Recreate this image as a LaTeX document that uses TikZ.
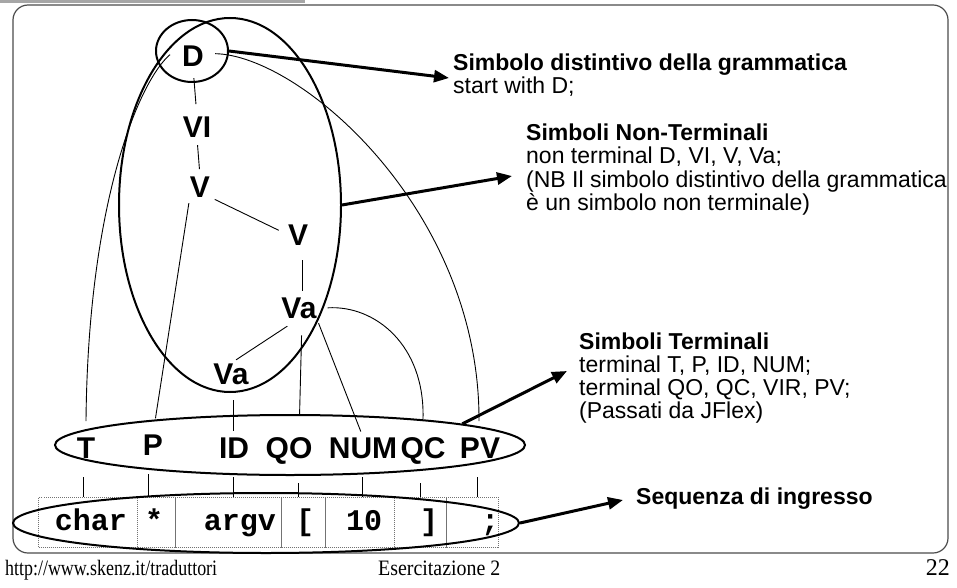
\documentclass[tikz,border=0pt]{standalone}
\usepackage{fontspec}
\setmainfont{Liberation Sans}
\newfontfamily\monofnt{Liberation Mono}
\newfontfamily\seriffnt{Liberation Serif}
\usetikzlibrary{shapes.geometric,arrows.meta,calc}
\begin{document}
\begin{tikzpicture}[x=1pt,y=-1pt,
 sym/.style={font=\bfseries\fontsize{30}{30}\selectfont, inner sep=0pt, anchor=base},
 tok/.style={font=\monofnt\bfseries\fontsize{30}{30}\selectfont, inner sep=0pt, anchor=base},
 cell/.style={draw=black!55, densely dotted, line width=1pt, minimum height=50pt, inner sep=0pt, anchor=north west},
 ell/.style={ellipse, draw, line width=2pt, inner sep=0pt},
 edge/.style={line width=0.9pt},
 bigarrow/.style={line width=3pt, -{Triangle[length=15pt,width=12pt]}},
 txt/.style={font=\fontsize{23}{23}\selectfont, inner sep=0pt, anchor=base west},
 btxt/.style={txt, font=\bfseries\fontsize{23}{23}\selectfont},
 foot/.style={font=\seriffnt\fontsize{22}{22}\selectfont, inner sep=0pt}
]
\useasboundingbox (0,0) rectangle (957,588);
% frame
\fill[gray!70] (0,0) rectangle (305,3);
\draw[rounded corners=15pt, line width=1.2pt, draw=black!70] (13,5) rectangle (948,553);

% input cells
\node[cell, minimum width=99pt] (c1) at (38,497) {};
\node[cell, minimum width=38pt] (c2) at (137,497) {};
\node[cell, minimum width=106pt] (c3) at (175,497) {};
\node[cell, minimum width=44pt] (c4) at (281,497) {};
\node[cell, minimum width=69pt] (c5) at (325,497) {};
\node[cell, minimum width=52pt] (c6) at (394,497) {};
\node[cell, minimum width=52pt] (c7) at (446,497) {};
\node[tok] (k1) at (91,530) {char};
\node[tok] (k2) at (154,530) {*};
\node[tok] (k3) at (240,530) {argv};
\node[tok] (k4) at (305,530) {[};
\node[tok] (k5) at (364,530) {10};
\node[tok] (k6) at (429,530) {]};
\node[tok] (k7) at (490,530) {;};

% ellipses
\node[ell, minimum width=72pt, minimum height=62pt] (ellD) at (192,51) {};
\node[ell, minimum width=222pt, minimum height=374pt] (ellNT) at (230,205) {};
\node[ell, minimum width=470pt, minimum height=60pt] (ellT) at (290,445) {};
\node[ell, minimum width=506pt, minimum height=60pt] (ellIn) at (266,523) {};

% non-terminals
\node[sym] (D) at (193,67) {D};
\node[sym] (VI) at (197,138) {VI};
\node[sym] (V1) at (200,197) {V};
\node[sym] (V2) at (298,245) {V};
\node[sym] (Va1) at (299,318) {Va};
\node[sym] (Va2) at (231,384) {Va};
% terminals
\node[sym] (T) at (86,458) {T};
\node[sym] (P) at (153,455) {P};
\node[sym] (ID) at (234,458) {ID};
\node[sym] (QO) at (289,458) {QO};
\node[sym] (NUM) at (363,458) {NUM};
\node[sym] (QC) at (423,458) {QC};
\node[sym] (PV) at (480,458) {PV};

% tree edges
\draw[edge, shorten <=11pt, shorten >=13pt] (D.south) -- (VI.north);
\draw[edge, shorten <=7pt, shorten >=7pt] (VI.south) -- (V1.north);
\draw[edge, shorten <=5pt, shorten >=10pt] (V1.south east) -- (V2.west);
\draw[edge, shorten <=6pt, shorten >=16pt] (V1.south west) -- (P.north);
\draw[edge, shorten <=15pt, shorten >=6pt] ([shift={(4,0)}]V2.south) -- ([shift={(3,0)}]Va1.north);
\draw[edge, shorten <=14pt, shorten >=6pt] (Va1.south) -- (Va2.north);
\draw[edge, shorten <=17pt, shorten >=22pt] ([shift={(3,0)}]Va1.south) -- ([shift={(10,0)}]QO.north);
\draw[edge, shorten <=5pt, shorten >=6pt] (Va1.south east) -- (NUM.north);
\draw[edge, shorten <=16pt, shorten >=6pt] ([shift={(2,0)}]Va2.south) -- ([shift={(-1,0)}]ID.north);
\draw[edge] ([shift={(11,0)}]Va1.east) .. controls (375,305) and (425,345) .. ([shift={(0,-18)}]QC.north);
\draw[edge] ([shift={(-12,-2)}]D.west) .. controls (140,80) and (88,200) .. ([shift={(0,-16)}]T.north);
\draw[edge] ([shift={(11,-3)}]D.east) .. controls (300,55) and (480,210) .. ([shift={(-1,-16)}]PV.north);

% terminal to input links
\foreach \t/\d in {T/-3, P/-5, ID/-1, QO/9, NUM/-1, QC/-3, PV/-3} {
  \path ([shift={(\d,19)}]\t.south) coordinate (\t-s);
}
\draw[edge] (T-s) -- (T-s |- c1.north);
\draw[edge] (P-s) -- (P-s |- c2.north);
\draw[edge] (ID-s) -- (ID-s |- c3.north);
\draw[edge] (QO-s) -- (QO-s |- c4.north);
\draw[edge] (NUM-s) -- (NUM-s |- c5.north);
\draw[edge] (QC-s) -- (QC-s |- c6.north);
\draw[edge] (PV-s) -- (PV-s |- c7.north);

% text blocks
\node[btxt] (b1a) at (453,71) {Simbolo distintivo della grammatica};
\node[txt] (b1b) at (453,94) {start with D;};
\node[btxt] (b2a) at (526,141) {Simboli Non-Terminali};
\node[txt] (b2b) at (526,164) {non terminal D, VI, V, Va;};
\node[txt] (b2c) at (526,187) {(NB Il simbolo distintivo della grammatica};
\node[txt] (b2d) at (526,210) {è un simbolo non terminale)};
\node[btxt] (b3a) at (579,349) {Simboli Terminali};
\node[txt] (b3b) at (579,372) {terminal T, P, ID, NUM;};
\node[txt] (b3c) at (579,395) {terminal QO, QC, VIR, PV;};
\node[txt] (b3d) at (579,418) {(Passati da JFlex)};
\node[btxt] (b4) at (636,504) {Sequenza di ingresso};

% arrows
\draw[bigarrow] (ellD.east) -- ([shift={(-4,7)}]b1a.base west);
\draw[bigarrow] (ellNT.east) -- ([shift={(-14,12)}]b2b.base west);
\draw[bigarrow] (ellT.7) -- ([shift={(-12,-1)}]b3b.base west);
\draw[bigarrow] (ellIn.east) -- ([shift={(-13,-4)}]b4.base west);

% footer
\node[foot, anchor=base west, xscale=0.815, transform shape] (f1) at (5,575) {http://www.skenz.it/traduttori};
\node[foot, anchor=base west, xscale=0.905, transform shape] (f2) at (378,575) {Esercitazione 2};
\node[foot, anchor=base east, font=\seriffnt\fontsize{24}{24}\selectfont] (f3) at (950,575) {22};
\end{tikzpicture}
\end{document}
